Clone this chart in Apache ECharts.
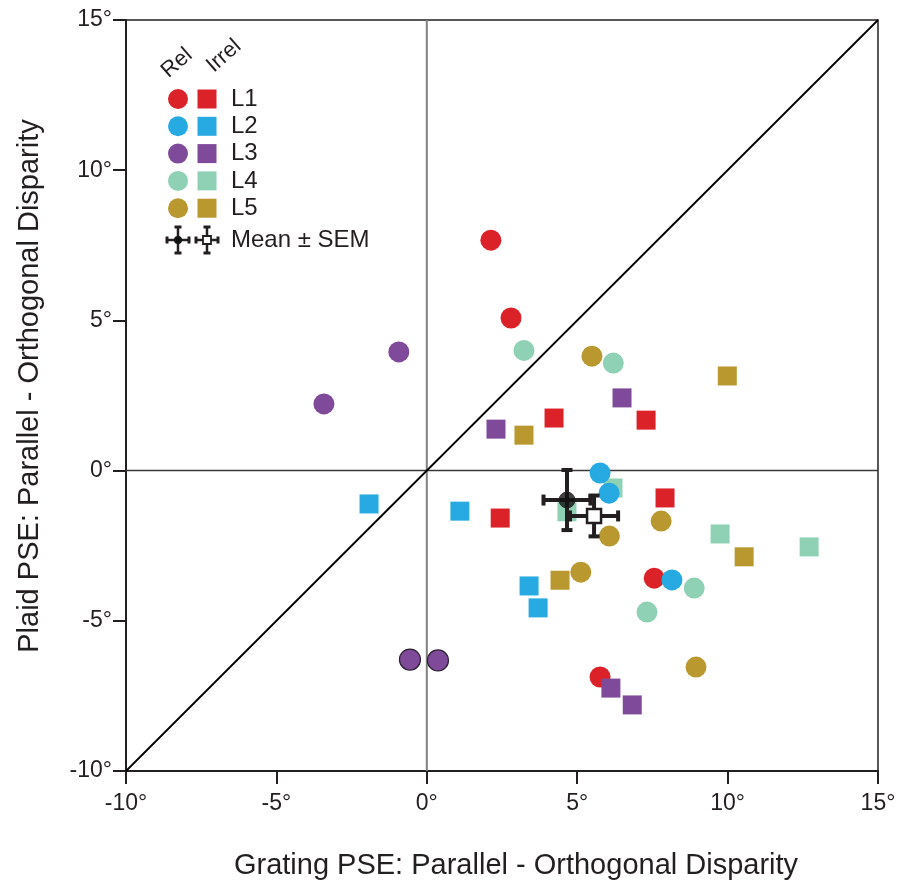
<!DOCTYPE html>
<html>
<head>
<meta charset="utf-8">
<script src="https://cdn.jsdelivr.net/npm/echarts@6/dist/echarts.min.js"></script>
<style>html,body{margin:0;padding:0;background:#fff}#c{width:903px;height:884px}</style>
</head>
<body>
<div id="c"></div>
<script>
// ---- data ----
var levels = ['L1', 'L2', 'L3', 'L4', 'L5'];
var relL1 = [[2.13, 7.67], [2.80, 5.08], [5.76, -6.87], [7.56, -3.58]];
var relL2 = [[5.76, -0.08], [6.06, -0.75], [8.15, -3.64]];
var relL3 = [[-0.93, 3.95], [-3.42, 2.22], [-0.56, -6.29], [0.37, -6.32]];
var relL4 = [[3.23, 4.00], [6.20, 3.58], [8.89, -3.91], [7.32, -4.71]];
var relL5 = [[5.49, 3.81], [7.79, -1.68], [6.07, -2.18], [5.12, -3.38], [8.95, -6.54]];
var irrL1 = [[4.23, 1.75], [7.29, 1.68], [7.92, -0.91], [2.44, -1.58]];
var irrL2 = [[-1.92, -1.11], [1.10, -1.35], [3.40, -3.84], [3.70, -4.57]];
var irrL3 = [[2.30, 1.38], [6.49, 2.42], [6.12, -7.24], [6.83, -7.80]];
var irrL4 = [[9.75, -2.11], [12.71, -2.54], [6.19, -0.58], [4.66, -1.37]];
var irrL5 = [[3.23, 1.18], [9.99, 3.15], [10.55, -2.87], [4.43, -3.65]];
// mean: [x, y, xSEM, ySEM]
var relMean = [[4.66, -0.98, 0.78, 1.00]];
var irrMean = [[5.56, -1.51, 0.80, 0.68]];
var diagLine = [[-10, -10], [15, 15]];
var zeroV = [[0, -10], [0, 15]];
var zeroH = [[-10, 0], [15, 0]];
var axisMin = -10, axisMax = 15, axisStep = 5;

// ---- styles ----
var colors = ['#DC2229', '#27A9E1', '#7F4A9A', '#8ED1B4', '#B8982F'];
var relData = [relL1, relL2, relL3, relL4, relL5];
var irrData = [irrL1, irrL2, irrL3, irrL4, irrL5];
var outlinedRel = {2: [2, 3]}; // level index -> point indices with dark outline
var drawOrder = [['rel', 0], ['irr', 0], ['rel', 3], ['irr', 3], ['rel', 1], ['irr', 1], ['rel', 2], ['irr', 2], ['rel', 4], ['irr', 4]];
var FONT = 'Arial, "Liberation Sans", Helvetica, sans-serif';
var INK = '#231f20';

var series = [];
function lineSeries(d, color, width) {
  return {type: 'line', data: d, symbol: 'none', silent: true, z: 1,
    lineStyle: {color: color, width: width}, animation: false};
}
series.push(lineSeries(zeroV, '#808080', 2));
series.push(lineSeries(zeroH, '#3a3a3a', 1.5));
series.push(lineSeries(diagLine, '#000', 1.8));

drawOrder.forEach(function (o, k) {
  var isRel = o[0] === 'rel', li = o[1];
  var src = isRel ? relData[li] : irrData[li];
  var outl = (isRel && outlinedRel[li]) || [];
  var d = src.map(function (p, i) {
    if (outl.indexOf(i) >= 0) {
      return {value: p, itemStyle: {borderColor: '#2a2030', borderWidth: 1.2}};
    }
    return p;
  });
  series.push({
    type: 'scatter', name: (isRel ? 'Rel ' : 'Irrel ') + levels[li], data: d,
    symbol: isRel ? 'circle' : 'rect', symbolSize: isRel ? 21 : 19,
    itemStyle: {color: colors[li], opacity: 1}, z: 3 + k, animation: false
  });
});

function errRender(params, api) {
  var x = api.value(0), y = api.value(1), ex = api.value(2), ey = api.value(3);
  var l = api.coord([x - ex, y]), r = api.coord([x + ex, y]);
  var t = api.coord([x, y + ey]), b = api.coord([x, y - ey]);
  var c = 5.5;
  var st = {stroke: INK, lineWidth: 4};
  function seg(x1, y1, x2, y2) { return {type: 'line', shape: {x1: x1, y1: y1, x2: x2, y2: y2}, style: st}; }
  return {type: 'group', children: [
    seg(l[0], l[1], r[0], r[1]), seg(t[0], t[1], b[0], b[1]),
    seg(l[0], l[1] - c, l[0], l[1] + c), seg(r[0], r[1] - c, r[0], r[1] + c),
    seg(t[0] - c, t[1], t[0] + c, t[1]), seg(b[0] - c, b[1], b[0] + c, b[1])
  ]};
}
series.push({type: 'custom', data: irrMean, renderItem: errRender, z: 20, animation: false,
  encode: {x: 0, y: 1}});
series.push({type: 'custom', data: relMean, renderItem: errRender, z: 20, animation: false,
  encode: {x: 0, y: 1}});
series.push({type: 'scatter', data: irrMean.map(function (m) { return [m[0], m[1]]; }),
  symbol: 'rect', symbolSize: 14, z: 21, animation: false,
  itemStyle: {color: '#ffffff', borderColor: INK, borderWidth: 2.5, opacity: 1}});
series.push({type: 'scatter', data: relMean.map(function (m) { return [m[0], m[1]]; }),
  symbol: 'circle', symbolSize: 16, z: 21, animation: false,
  itemStyle: {color: '#111', borderColor: INK, borderWidth: 1}});

// ---- legend (graphic) ----
var g = [];
var legX1 = 178, legX2 = 207, legY0 = 99, legDy = 27.3;
g.push({type: 'text', x: 177, y: 63, rotation: 0.72,
  style: {text: 'Rel', fontFamily: FONT, fontSize: 22, fill: INK, align: 'center', verticalAlign: 'middle'}});
g.push({type: 'text', x: 224, y: 56, rotation: 0.72,
  style: {text: 'Irrel', fontFamily: FONT, fontSize: 22, fill: INK, align: 'center', verticalAlign: 'middle'}});
levels.forEach(function (name, i) {
  var y = legY0 + i * legDy;
  g.push({type: 'circle', shape: {cx: legX1, cy: y, r: 10}, style: {fill: colors[i]}});
  g.push({type: 'rect', shape: {x: legX2 - 9.5, y: y - 9.5, width: 19, height: 19}, style: {fill: colors[i]}});
  g.push({type: 'text', x: 231, y: y, style: {text: name, fontFamily: FONT, fontSize: 24, fill: INK, verticalAlign: 'middle'}});
});
var my = 240;
function lg(x1, y1, x2, y2, w) { return {type: 'line', shape: {x1: x1, y1: y1, x2: x2, y2: y2}, style: {stroke: INK, lineWidth: w}}; }
[[legX1, 'c'], [legX2, 's']].forEach(function (m) {
  var cx = m[0];
  g.push(lg(cx - 11, my, cx + 11, my, 2.5));
  g.push(lg(cx, my - 13, cx, my + 13, 2.5));
  g.push(lg(cx - 11, my - 3.5, cx - 11, my + 3.5, 3));
  g.push(lg(cx + 11, my - 3.5, cx + 11, my + 3.5, 3));
  g.push(lg(cx - 3.5, my - 13, cx + 3.5, my - 13, 3));
  g.push(lg(cx - 3.5, my + 13, cx + 3.5, my + 13, 3));
  if (m[1] === 'c') {
    g.push({type: 'circle', shape: {cx: cx, cy: my, r: 4}, style: {fill: '#111'}});
  } else {
    g.push({type: 'rect', shape: {x: cx - 4, y: my - 4, width: 8, height: 8}, style: {fill: '#fff', stroke: INK, lineWidth: 1.8}});
  }
});
g.push({type: 'text', x: 231, y: my, style: {text: 'Mean ± SEM', fontFamily: FONT, fontSize: 24, fill: INK, verticalAlign: 'middle'}});
// axis titles
g.push({type: 'text', x: 516, y: 866, style: {text: 'Grating PSE: Parallel - Orthogonal Disparity', fontFamily: FONT, fontSize: 29, fill: INK, align: 'center', verticalAlign: 'middle'}});
g.push({type: 'text', x: 30, y: 386, rotation: Math.PI / 2, style: {text: 'Plaid PSE: Parallel - Orthogonal Disparity', fontFamily: FONT, fontSize: 29, fill: INK, align: 'center', verticalAlign: 'middle'}});

function axisCfg(isX) {
  return {
    type: 'value', min: axisMin, max: axisMax, interval: axisStep,
    splitLine: {show: false},
    axisLine: {show: true, onZero: false, lineStyle: {color: INK, width: 2}},
    axisTick: {show: true, inside: false, length: 13, lineStyle: {color: INK, width: 2}},
    axisLabel: {formatter: '{value}°', fontFamily: FONT, fontSize: 23, color: INK, margin: isX ? 21 : 14}
  };
}

var chart = echarts.init(document.getElementById('c'), null, {renderer: 'canvas'});
chart.setOption({
  animation: false,
  backgroundColor: '#fff',
  grid: {left: 126, right: 25, top: 20, bottom: 113, show: true, borderColor: INK, borderWidth: 1.5, backgroundColor: 'transparent'},
  xAxis: axisCfg(true),
  yAxis: axisCfg(false),
  series: series,
  graphic: g
});
</script>
</body>
</html>
